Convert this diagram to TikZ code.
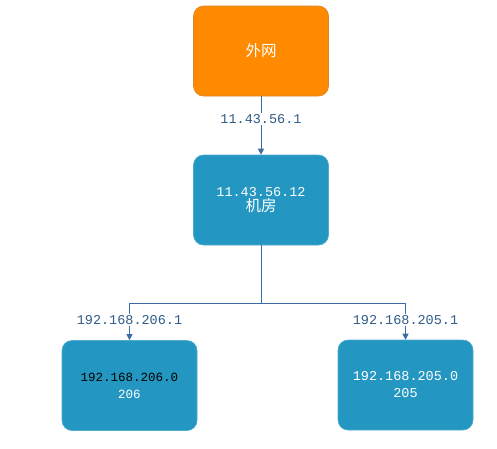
\documentclass[tikz,border=0pt]{standalone}
\usepackage{fontspec}
\setmonofont{Liberation Mono}
\newfontfamily\cjk{Noto Sans CJK SC}
\usetikzlibrary{arrows.meta}
\definecolor{netorange}{HTML}{FF8A00}
\definecolor{netblue}{HTML}{2397C1}
\definecolor{linkblue}{HTML}{3A6CA6}
\definecolor{labeltext}{HTML}{2F5C88}
\newcommand{\cjktext}[1]{{\fontsize{15.5}{17}\selectfont\cjk #1}}
\begin{document}
\begin{tikzpicture}[x=1pt,y=-1pt,
  box/.style={rounded corners=10pt, minimum width=135pt, minimum height=90pt,
    align=center, text=white, font=\fontsize{13.5}{17}\selectfont\ttfamily},
  orangebox/.style={box, fill=netorange, draw=netorange!70!gray, line width=0.6pt},
  bluebox/.style={box, fill=netblue, draw=netblue!80!white, line width=0.6pt},
  link/.style={draw=linkblue, line width=0.7pt, -{Triangle[length=6pt,width=6pt]}},
  iplabel/.style={fill=white, inner sep=1pt, text=labeltext,
    font=\fontsize{13.5}{15}\selectfont\ttfamily}]
  \useasboundingbox[fill=white] (0,0) rectangle (497,448);

  % network nodes
  \node[orangebox] (wan) at (261,51) {\cjktext{外网}};
  \node[bluebox] (room) at (261,200) {11.43.56.12\\[-2pt]\cjktext{机房}};
  \node[bluebox, font=\fontsize{12.5}{17}\selectfont\ttfamily] (lan206) at (129.5,385.5)
    {\textcolor{black}{192.168.206.0}\\206};
  \node[bluebox] (lan205) at (405.5,385) {192.168.205.0\\205};

  % uplink
  \draw[link] (wan.south) -- (room.north);
  \node[iplabel] (wanip) at (261,119) {11.43.56.1};

  % branch to the two subnets
  \coordinate (split) at (261,303);
  \draw[draw=linkblue, line width=0.7pt] (room.south) -- (split);
  \draw[link] (split) -| (lan206.north);
  \draw[link] (split) -| (lan205.north);
  \node[iplabel] (ip206) at (129.5,320) {192.168.206.1};
  \node[iplabel] (ip205) at (405.5,320) {192.168.205.1};
\end{tikzpicture}
\end{document}
